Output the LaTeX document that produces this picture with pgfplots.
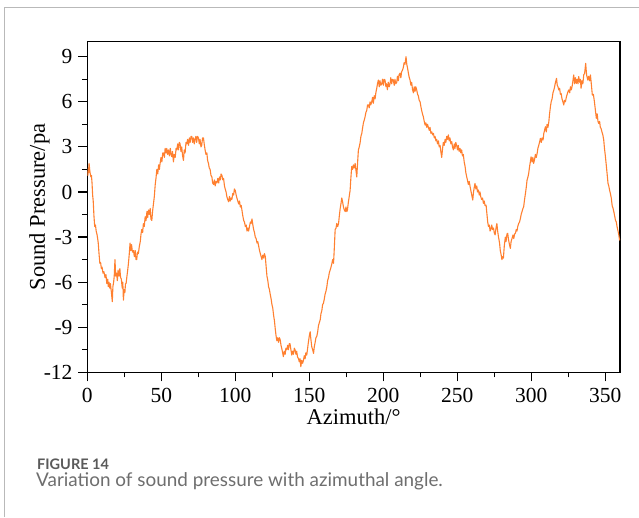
\documentclass[border=0pt]{standalone}
\usepackage{pgfplots}
\pgfplotsset{compat=1.18}
\usepackage{fontspec}
\setmainfont{Liberation Serif}
\newfontfamily\capfont{Lato}
\definecolor{curve}{RGB}{255,128,48}
\definecolor{framegray}{RGB}{185,185,185}
\definecolor{capdark}{RGB}{90,90,90}
\definecolor{caplight}{RGB}{110,110,110}
\begin{document}
\begin{tikzpicture}
\useasboundingbox (0,0) rectangle (639pt,517pt);
\fill[white] (0,0) rectangle (639pt,517pt);
\draw[framegray, line width=1pt] (4pt,0) -- (4pt,509pt) -- (639pt,509pt);
\begin{axis}[
  at={(87.3pt,144.7pt)}, anchor=south west,
  scale only axis, width=532.7pt, height=330.6pt,
  xmin=0, xmax=360, ymin=-12, ymax=10,
  axis line style={line width=1.2pt, black},
  tick pos=left,
  tick align=outside,
  major tick length=9pt, minor tick length=5pt,
  xtick={0,50,100,150,200,250,300,350}, minor x tick num=1,
  xticklabels={0,50,100,150,200,250,300,350},
  ytick={-12,-9,-6,-3,0,3,6,9}, minor y tick num=1,
  yticklabels={-12,-9,-6,-3,0,3,6,9},
  every tick/.style={line width=1.2pt, black},
  tick label style={font=\fontsize{21.5}{24}\selectfont, inner sep=0pt},
  xticklabel style={yshift=-6.7pt},
  yticklabel style={xshift=-5.6pt},
  xlabel={Azimuth/°},
  ylabel={Sound Pressure/pa},
  xlabel style={at={(axis description cs:0.5,-0.1564)}, anchor=base, inner sep=0pt, font=\fontsize{22.5}{26}\selectfont},
  ylabel style={at={(axis description cs:-0.0897,0.5)}, anchor=center, inner sep=0pt, font=\fontsize{22.5}{26}\selectfont},
]
\addplot[curve, line width=1.1pt, line join=round] coordinates {
(0,1.4)(0.4,1.1)(0.7,1.6)(1.0,1.3)(1.2,1.9)(1.6,1.5)(2.0,1.2)(2.4,1.0)(2.8,1.1)(3.2,0.6)(3.6,-0.2)(4.0,-0.6)(4.5,-1.6)(5.0,-2.3)(5.5,-2.2)(6.0,-2.6)(6.5,-2.8)(7.0,-3.1)(7.4,-3.4)(8.0,-4.2)(8.5,-4.75)(9.0,-4.7)(9.5,-5.1)(10.0,-5.0)(10.6,-5.4)(11.2,-5.3)(12.0,-5.7)(12.6,-5.5)(13.2,-6.1)(13.8,-5.8)(14.2,-6.3)(14.7,-6.0)(15.2,-6.4)(15.6,-6.1)(16.2,-6.6)(16.9,-7.3)(17.3,-6.3)(17.8,-6.0)(18.2,-5.6)(18.7,-4.5)(19.2,-5.6)(19.8,-5.4)(20.3,-5.9)(20.8,-5.2)(21.4,-5.6)(22.0,-5.1)(22.5,-5.7)(23.0,-5.8)(23.6,-6.4)(24.0,-6.0)(24.4,-7.2)(24.9,-6.5)(25.4,-6.7)(25.8,-6.1)(26.2,-6.1)(26.8,-5.6)(27.3,-5.2)(27.8,-4.75)(28.3,-4.2)(28.9,-3.4)(29.4,-3.9)(29.9,-3.5)(30.5,-4.0)(31.2,-3.9)(31.8,-4.3)(32.4,-3.9)(32.9,-4.5)(33.4,-4.5)(33.9,-4.0)(34.5,-4.1)(35.2,-3.6)(35.8,-3.3)(36.3,-2.8)(36.8,-2.5)(37.4,-2.7)(37.9,-2.1)(38.5,-2.3)(39.1,-1.65)(39.7,-1.9)(40.3,-1.3)(40.8,-1.7)(41.3,-1.2)(41.9,-1.5)(42.5,-1.1)(43.0,-1.8)(43.6,-1.9)(44.1,-1.3)(44.7,-0.8)(45.3,-0.3)(45.9,0.5)(46.4,0.9)(47.0,1.5)(47.6,1.2)(48.2,1.8)(48.7,1.5)(49.2,1.9)(49.8,2.3)(50.4,2.0)(51.0,2.6)(51.5,2.6)(52.1,2.3)(52.6,2.9)(53.2,2.6)(53.7,2.9)(54.3,2.5)(54.9,2.8)(55.5,2.4)(56.1,2.9)(56.6,2.5)(57.1,2.35)(57.6,2.7)(58.2,2.0)(58.8,2.5)(59.4,2.3)(60.0,2.9)(60.5,2.8)(61.1,3.2)(61.6,2.8)(62.2,3.3)(62.7,3.2)(63.3,2.7)(63.8,3.0)(64.4,2.4)(65.0,2.1)(65.5,2.8)(66.1,2.6)(66.7,3.3)(67.2,3.2)(67.8,3.5)(68.4,3.1)(69.0,3.6)(69.5,3.3)(70.1,3.7)(70.6,3.7)(71.2,3.3)(71.7,3.6)(72.3,3.2)(72.8,3.5)(73.4,3.7)(73.9,3.3)(74.5,3.7)(75.1,3.6)(75.7,3.2)(76.2,3.5)(76.8,3.0)(77.3,3.1)(77.9,3.6)(78.5,3.6)(79.0,3.2)(79.6,2.8)(80.2,2.5)(80.8,2.6)(81.3,2.1)(81.9,1.9)(82.4,1.6)(83.0,1.5)(83.6,1.1)(84.2,1.0)(84.7,0.6)(85.3,0.5)(85.9,0.8)(86.4,0.4)(87.0,0.7)(87.6,0.6)(88.2,0.9)(88.8,0.6)(89.3,1.0)(89.9,0.8)(90.4,1.2)(91.0,1.1)(91.6,0.8)(92.1,0.9)(92.7,0.4)(93.2,0.2)(93.8,0.0)(94.3,-0.3)(94.9,-0.5)(95.5,-0.65)(96.1,-0.3)(96.6,-0.6)(97.2,-0.4)(97.7,-0.5)(98.3,-0.1)(98.9,-0.2)(99.4,0.2)(100.0,0.1)(100.6,-0.2)(101.1,-0.4)(101.7,-0.6)(102.3,-0.8)(102.9,-0.6)(103.4,-1.0)(104.0,-0.9)(104.5,-1.2)(105.1,-1.6)(105.7,-1.9)(106.2,-2.0)(106.8,-2.3)(107.4,-2.2)(107.9,-2.6)(108.5,-2.4)(109.0,-2.6)(109.6,-2.3)(110.2,-2.0)(110.7,-2.1)(111.3,-1.8)(111.9,-2.2)(112.4,-2.5)(113.0,-2.7)(113.5,-3.0)(114.1,-3.1)(114.7,-3.4)(115.2,-3.3)(115.8,-3.6)(116.4,-3.9)(116.9,-4.1)(117.5,-4.3)(118.0,-4.5)(118.6,-4.2)(119.2,-4.4)(119.7,-4.1)(120.3,-4.3)(120.8,-4.9)(121.4,-5.6)(122.0,-5.9)(122.5,-6.3)(123.1,-6.5)(123.6,-6.8)(124.2,-7.1)(124.8,-7.5)(125.3,-7.7)(125.9,-8.2)(126.5,-8.6)(127.0,-9.1)(127.6,-9.6)(128.1,-9.9)(128.7,-9.7)(129.2,-10.0)(129.8,-9.7)(130.3,-9.8)(130.9,-10.2)(131.4,-10.4)(132.0,-10.7)(132.5,-10.96)(133.1,-10.6)(133.7,-10.8)(134.2,-10.4)(134.8,-10.5)(135.4,-10.2)(135.9,-10.5)(136.5,-10.1)(137.0,-10.1)(137.6,-10.5)(138.2,-10.85)(138.7,-10.6)(139.3,-10.8)(139.9,-10.4)(140.4,-10.5)(141.0,-10.8)(141.5,-10.6)(142.1,-11.0)(142.7,-11.07)(143.2,-11.3)(143.8,-11.1)(144.3,-11.63)(144.9,-11.2)(145.5,-11.4)(146.1,-11.2)(146.6,-10.9)(147.2,-11.1)(147.7,-10.7)(148.3,-10.85)(148.9,-10.4)(149.4,-10.0)(150.0,-9.6)(150.6,-9.3)(151.1,-9.8)(151.7,-10.3)(152.3,-10.5)(152.9,-10.74)(153.4,-10.3)(154.0,-10.0)(154.5,-9.7)(155.1,-9.6)(155.7,-9.3)(156.2,-8.9)(156.8,-8.7)(157.4,-8.5)(157.9,-8.1)(158.5,-7.9)(159.0,-7.5)(159.6,-7.4)(160.2,-7.1)(160.7,-6.8)(161.3,-6.6)(161.9,-6.3)(162.4,-5.9)(163.0,-5.7)(163.5,-5.4)(164.1,-5.2)(164.7,-5.0)(165.2,-4.8)(165.8,-4.5)(166.4,-4.75)(166.9,-3.8)(167.5,-2.5)(168.1,-2.4)(168.6,-2.1)(169.2,-2.3)(169.8,-2.1)(170.3,-1.6)(170.9,-1.1)(171.4,-0.8)(172.0,-0.4)(172.6,-0.7)(173.1,-1.0)(173.7,-1.2)(174.3,-1.3)(174.8,-1.0)(175.4,-1.3)(175.8,-1.2)(176.4,-0.7)(177.0,-0.3)(177.6,0.1)(178.1,0.9)(178.7,1.7)(179.3,1.5)(179.8,1.8)(180.4,1.6)(181.0,1.9)(181.6,1.4)(182.1,1.0)(182.7,2.0)(183.2,2.8)(183.8,3.0)(184.4,3.3)(184.9,3.7)(185.5,3.9)(186.1,4.3)(186.6,4.6)(187.2,4.8)(187.7,5.0)(188.3,5.3)(188.8,5.4)(189.4,5.8)(190.0,5.8)(190.5,5.6)(191.1,6.0)(191.6,5.8)(192.2,6.0)(192.8,6.3)(193.3,5.9)(193.9,6.4)(194.5,6.2)(195.0,6.6)(195.6,6.9)(196.1,7.2)(196.7,7.45)(197.3,7.0)(197.8,7.4)(198.4,7.1)(199.0,7.2)(199.5,7.5)(200.1,7.1)(200.6,7.5)(201.2,7.45)(201.8,7.0)(202.3,7.2)(202.8,6.8)(203.4,7.3)(204.0,7.0)(204.6,7.2)(205.1,7.6)(205.7,7.2)(206.2,7.5)(206.8,7.45)(207.4,7.1)(207.9,7.5)(208.5,7.2)(209.1,7.3)(209.6,7.7)(210.2,7.4)(210.7,7.8)(211.3,7.9)(211.9,7.6)(212.4,8.0)(213.0,8.1)(213.6,8.3)(214.1,8.6)(214.7,8.5)(215.4,9.0)(215.9,8.5)(216.5,8.2)(217.0,7.9)(217.6,7.6)(218.1,7.45)(218.7,7.1)(219.2,7.3)(219.8,6.8)(220.4,6.6)(220.9,7.0)(221.5,6.7)(222.0,7.0)(222.6,6.8)(223.2,6.5)(223.7,6.4)(224.3,6.1)(224.9,6.0)(225.4,5.7)(226.0,5.4)(226.5,5.2)(227.1,5.0)(227.7,4.7)(228.3,4.45)(228.8,4.6)(229.4,4.3)(229.9,4.5)(230.5,4.3)(231.1,4.1)(231.6,4.3)(232.2,3.9)(232.8,4.0)(233.4,3.8)(233.9,3.9)(234.5,3.6)(235.0,3.7)(235.6,3.4)(236.1,3.5)(236.7,3.2)(237.3,3.4)(237.8,3.0)(238.4,3.1)(238.9,2.7)(239.5,2.3)(240.1,2.9)(240.6,3.3)(241.2,3.1)(241.8,3.5)(242.3,3.3)(242.9,3.7)(243.5,3.5)(244.0,3.8)(244.6,3.4)(245.1,3.6)(245.7,3.2)(246.3,3.35)(246.8,3.0)(247.4,2.8)(248.0,3.2)(248.5,2.9)(249.0,3.3)(249.6,3.1)(250.2,2.8)(250.7,3.1)(251.3,2.7)(251.9,2.9)(252.4,2.6)(253.0,2.8)(253.5,2.4)(254.1,2.5)(254.7,2.0)(255.3,1.7)(255.8,1.3)(256.4,1.0)(256.9,0.8)(257.5,0.5)(258.1,0.7)(258.7,0.35)(259.2,0.1)(259.8,-0.2)(260.5,-0.54)(261.0,0.0)(261.5,0.3)(262.0,0.57)(262.6,0.2)(263.2,0.4)(263.7,0.0)(264.3,0.13)(264.9,-0.2)(265.4,0.0)(265.9,-0.32)(266.5,-0.5)(267.1,-0.4)(267.7,-0.76)(268.2,-0.6)(268.8,-0.9)(269.5,-0.87)(270.0,-1.4)(270.6,-2.0)(271.1,-2.3)(271.7,-2.2)(272.2,-2.6)(272.7,-2.5)(273.3,-2.2)(273.9,-2.5)(274.5,-2.4)(275.0,-2.7)(275.6,-2.86)(276.2,-2.4)(276.8,-2.1)(277.3,-2.6)(277.9,-3.0)(278.6,-3.4)(279.1,-3.9)(279.7,-4.2)(280.2,-4.5)(280.7,-4.3)(281.2,-4.4)(281.8,-3.6)(282.5,-3.0)(283.0,-3.3)(283.6,-2.8)(284.1,-2.75)(284.7,-3.2)(285.3,-3.5)(285.9,-3.75)(286.4,-3.3)(287.0,-3.1)(287.7,-2.86)(288.2,-3.1)(288.8,-2.8)(289.3,-2.75)(289.9,-2.5)(290.4,-2.6)(290.9,-2.3)(291.5,-2.1)(292.1,-2.0)(292.7,-1.76)(293.2,-1.5)(293.8,-1.3)(294.4,-1.1)(294.9,-0.98)(295.5,-0.5)(296.1,-0.1)(296.7,0.35)(297.2,0.8)(297.8,1.0)(298.3,1.24)(298.9,1.7)(299.4,2.0)(299.9,2.34)(300.5,2.0)(301.1,2.3)(301.6,1.9)(302.2,2.13)(302.8,2.5)(303.4,2.3)(304.0,2.57)(304.5,2.9)(305.1,3.1)(305.6,3.3)(306.2,3.57)(306.8,3.3)(307.4,3.6)(308.0,3.46)(308.5,3.9)(309.0,4.1)(309.6,4.34)(310.2,4.0)(310.7,4.5)(311.3,4.3)(311.9,4.67)(312.4,5.2)(313.0,5.7)(313.5,6.01)(314.1,6.2)(314.7,6.6)(315.3,6.79)(315.8,7.0)(316.4,7.3)(317.1,7.56)(317.6,7.1)(318.1,7.0)(318.6,6.79)(319.2,6.9)(319.7,6.5)(320.2,6.56)(320.8,6.2)(321.4,6.0)(322.0,5.79)(322.5,6.1)(323.1,6.0)(323.8,6.34)(324.3,6.5)(324.9,6.7)(325.4,6.79)(326.0,6.6)(326.5,7.0)(327.1,6.8)(327.6,7.01)(328.2,7.4)(328.7,7.79)(329.3,7.2)(329.9,7.6)(330.5,7.23)(331.0,7.5)(331.6,7.2)(332.1,7.68)(332.7,7.3)(333.2,7.5)(333.7,6.9)(334.3,7.4)(334.9,7.2)(335.5,7.79)(336.1,7.9)(336.8,8.56)(337.4,7.8)(338.2,7.45)(338.8,7.7)(339.4,7.4)(340.0,7.79)(340.6,7.2)(341.3,6.45)(342.0,6.5)(342.7,6.01)(343.3,5.5)(344.0,4.9)(344.6,5.2)(345.1,4.7)(345.6,4.56)(346.2,4.7)(346.7,4.3)(347.2,4.23)(347.8,4.0)(348.4,3.8)(349.0,3.46)(349.5,2.9)(350.1,2.4)(350.6,1.9)(351.2,1.3)(351.9,0.57)(352.4,0.4)(353.0,0.1)(353.5,-0.1)(354.1,-0.4)(354.7,-0.9)(355.3,-1.09)(355.8,-1.3)(356.4,-1.6)(356.9,-1.87)(357.5,-2.0)(358.0,-2.3)(358.5,-2.53)(359.1,-2.8)(359.7,-3.2)(360,-3.1)
};
\end{axis}
\node[anchor=base west, inner sep=0pt, text=capdark, font=\capfont\bfseries\fontsize{14.5}{17}\selectfont] at (37pt,47.7pt) {FIGURE 14};
\node[anchor=base west, inner sep=0pt, text=caplight, font=\capfont\fontsize{18.9}{22}\selectfont] at (36pt,30.3pt) {Variation of sound pressure with azimuthal angle.};
\end{tikzpicture}
\end{document}
